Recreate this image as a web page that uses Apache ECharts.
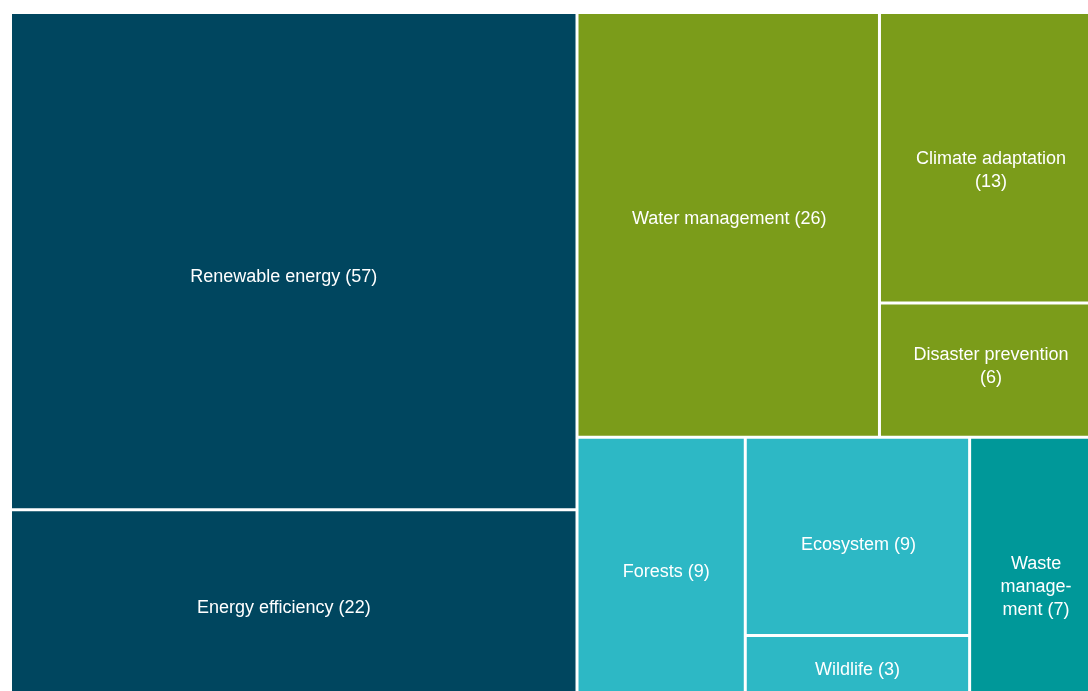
<!DOCTYPE html>
<html>
<head>
<meta charset="utf-8">
<script src="https://cdn.jsdelivr.net/npm/echarts@6/dist/echarts.min.js"></script>
<style>
  html, body { margin: 0; padding: 0; background: #fff; }
  #chart { width: 1088px; height: 691px; }
</style>
</head>
<body>
<div id="chart"></div>
<script>
// Data: project counts by theme
const energyNames = ['Renewable energy', 'Energy efficiency'];
const energyValues = [57, 22];
const climateNames = ['Water management', 'Climate adaptation', 'Disaster prevention'];
const climateValues = [26, 13, 6];
const natureNames = ['Forests', 'Ecosystem', 'Wildlife', 'Waste management'];
const natureValues = [9, 9, 3, 7];

// how labels wrap in the boxes
const labelBreaks = {
  'Climate adaptation': 'Climate adaptation\n',
  'Disaster prevention': 'Disaster prevention\n',
  'Waste management': 'Waste\nmanage-\nment '
};

// small label nudges to match the original placement
const labelNudge = {
  'Renewable energy': [-10, 16],
  'Energy efficiency': [-10, 2],
  'Water management': [1, -6],
  'Climate adaptation': [1, 13],
  'Disaster prevention': [1, -4],
  'Forests': [5, 3],
  'Ecosystem': [1, 9],
  'Wildlife': [0, 2],
  'Waste management': [1, 18]
};

const colors = {
  energy: '#00465f',
  climate: '#7b9c1a',
  nature: '#2db8c5',
  waste: '#009899'
};

function leaf(name, value, color) {
  const item = { name: name, value: value, itemStyle: { color: color } };
  if (labelNudge[name]) item.label = { offset: labelNudge[name] };
  return item;
}

const energyGroup = {
  name: 'Energy',
  children: energyNames.map((n, i) => leaf(n, energyValues[i], colors.energy))
};
const climateGroup = {
  name: 'Water and climate',
  children: climateNames.map((n, i) => leaf(n, climateValues[i], colors.climate))
};
// Ecosystem and Wildlife share a column, as in the original layout
const natureLeaves = natureNames.map((n, i) =>
  leaf(n, natureValues[i], n === 'Waste management' ? colors.waste : colors.nature));
const natureGroup = {
  name: 'Nature',
  children: [
    natureLeaves[0],
    { name: 'Ecosystem and wildlife', children: [natureLeaves[1], natureLeaves[2]] },
    natureLeaves[3]
  ]
};

const chart = echarts.init(document.getElementById('chart'));

const gapStyle = { borderWidth: 0, gapWidth: 3, borderColor: '#ffffff' };

chart.setOption({
  animation: false,
  series: [{
    type: 'treemap',
    left: 12,
    top: 14,
    width: 1087,
    height: 686,
    sort: false,
    squareRatio: 1,
    roam: false,
    nodeClick: false,
    breadcrumb: { show: false },
    itemStyle: gapStyle,
    levels: [
      { itemStyle: gapStyle },
      { itemStyle: gapStyle },
      { itemStyle: gapStyle },
      { itemStyle: gapStyle }
    ],
    label: {
      show: true,
      position: 'inside',
      color: '#ffffff',
      fontFamily: '"Liberation Sans", Arial, sans-serif',
      fontSize: 18,
      lineHeight: 23,
      overflow: 'none',
      formatter: function (p) {
        const head = labelBreaks[p.name] || (p.name + ' ');
        return head + '(' + p.value + ')';
      }
    },
    upperLabel: { show: false },
    emphasis: { disabled: true },
    data: [energyGroup, climateGroup, natureGroup]
  }]
});

window.addEventListener('resize', () => chart.resize());
</script>
</body>
</html>
